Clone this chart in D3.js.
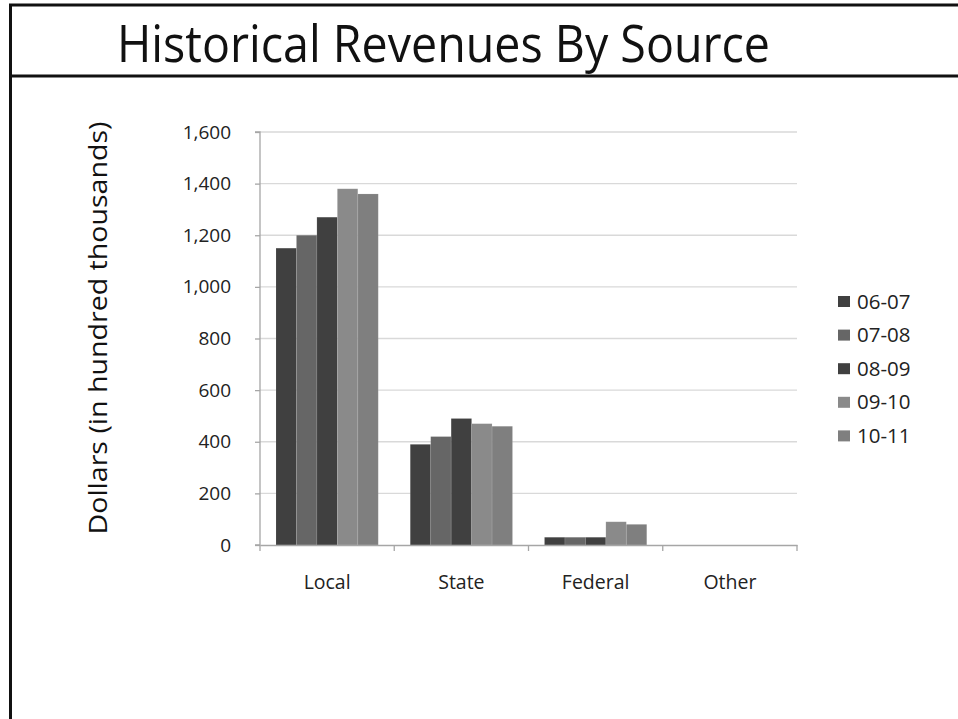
<!DOCTYPE html>
<html><head><meta charset="utf-8">
<script src="https://cdn.jsdelivr.net/npm/d3@7"></script>
<style>body{margin:0;background:#fff}svg{display:block}</style>
</head><body>
<svg id="c" width="958" height="719"></svg>
<script>
const categories = ["Local", "State", "Federal", "Other"];
const seriesNames = ["06-07", "07-08", "08-09", "09-10", "10-11"];
const values0607 = [1150, 390, 30, 0];
const values0708 = [1200, 420, 30, 0];
const values0809 = [1270, 490, 30, 0];
const values0910 = [1380, 470, 90, 0];
const values1011 = [1360, 460, 80, 0];
const seriesColors = ["#404040", "#666666", "#404040", "#8a8a8a", "#7f7f7f"];
const yTickValues = [0, 200, 400, 600, 800, 1000, 1200, 1400, 1600];
const titleText = "Historical Revenues By Source";
const yTitleText = "Dollars (in hundred thousands)";

(function () {
const seriesValues = [values0607, values0708, values0809, values0910, values1011];
const FONT = "'Open Sans', 'Noto Sans', sans-serif";
const svg = d3.select("#c");

// frame
svg.append("line").attr("x1", 10.5).attr("x2", 10.5).attr("y1", 4).attr("y2", 719).attr("stroke", "#111").attr("stroke-width", 3);
svg.append("line").attr("x1", 9).attr("x2", 958).attr("y1", 5).attr("y2", 5).attr("stroke", "#111").attr("stroke-width", 3);
svg.append("line").attr("x1", 9).attr("x2", 958).attr("y1", 76).attr("y2", 76).attr("stroke", "#111").attr("stroke-width", 3);

// title
svg.append("text").attr("x", 117).attr("y", 62).text(titleText)
  .attr("font-family", FONT).attr("font-size", 52).attr("fill", "#111")
  .attr("textLength", 653).attr("lengthAdjust", "spacingAndGlyphs");

const pLeft = 260, pRight = 797, pTop = 132, pBottom = 545;
const x = d3.scaleBand().domain(categories).range([pLeft, pRight]).paddingInner(0).paddingOuter(0);
const xs = d3.scaleBand().domain(seriesNames).range([16, x.bandwidth() - 16]).padding(0);
const y = d3.scaleLinear().domain([0, 1600]).range([pBottom, pTop]);

// gridlines
svg.append("g").selectAll("line").data(yTickValues.filter(d => d > 0)).join("line")
  .attr("x1", pLeft).attr("x2", pRight).attr("y1", d => y(d)).attr("y2", d => y(d))
  .attr("stroke", "#d9d9d9").attr("stroke-width", 1.3);

// bars
const gSeries = svg.append("g").selectAll("g").data(seriesNames).join("g")
  .attr("fill", (d, i) => seriesColors[i]);
gSeries.selectAll("rect").data((s, i) => categories.map((c, j) => ({c, s, v: seriesValues[i][j]})).filter(d => d.v > 0))
  .join("rect")
  .attr("x", d => x(d.c) + xs(d.s)).attr("width", xs.bandwidth())
  .attr("y", d => y(d.v)).attr("height", d => y(0) - y(d.v))
  .attr("stroke", "rgba(255,255,255,0.12)").attr("stroke-width", 0.8);

// y axis
const yAxis = svg.append("g").attr("transform", `translate(${pLeft},0)`)
  .call(d3.axisLeft(y).tickValues(yTickValues).tickFormat(d3.format(",")).tickSize(5).tickPadding(24));
yAxis.select(".domain").attr("stroke", "#a6a6a6").attr("stroke-width", 1.3).attr("d", `M-5,${pTop}H0V${pBottom}H-5`);
yAxis.selectAll(".tick line").attr("stroke", "#a6a6a6").attr("stroke-width", 1.3);
yAxis.selectAll(".tick text").attr("font-family", FONT).attr("font-size", 19).attr("fill", "#222");

// x axis
const xAxis = svg.append("g").attr("transform", `translate(0,${pBottom})`)
  .call(d3.axisBottom(x).tickSize(0).tickPadding(30));
xAxis.select(".domain").attr("stroke", "#a6a6a6").attr("stroke-width", 1.3);
xAxis.selectAll(".tick text").attr("font-family", FONT).attr("font-size", 19.5).attr("fill", "#222");
const boundaries = categories.map(c => x(c)).concat([pRight]);
xAxis.append("g").selectAll("line").data(boundaries).join("line")
  .attr("x1", d => d).attr("x2", d => d).attr("y1", 0).attr("y2", 6)
  .attr("stroke", "#a6a6a6").attr("stroke-width", 1.3);

// y title
svg.append("text").attr("transform", "translate(107,328) rotate(-90)")
  .attr("text-anchor", "middle").text(yTitleText)
  .attr("font-family", FONT).attr("font-size", 25).attr("fill", "#111")
  .attr("textLength", 413).attr("lengthAdjust", "spacingAndGlyphs");

// legend
const lg = svg.append("g").selectAll("g").data(seriesNames).join("g")
  .attr("transform", (d, i) => `translate(838,${296 + i * 33.6})`);
lg.append("rect").attr("width", 12).attr("height", 11).attr("fill", (d, i) => seriesColors[i]);
lg.append("text").attr("x", 19).attr("y", 5.5).attr("dy", "0.35em").text(d => d)
  .attr("font-family", FONT).attr("font-size", 20.5).attr("fill", "#222");
})();
</script>
</body></html>
